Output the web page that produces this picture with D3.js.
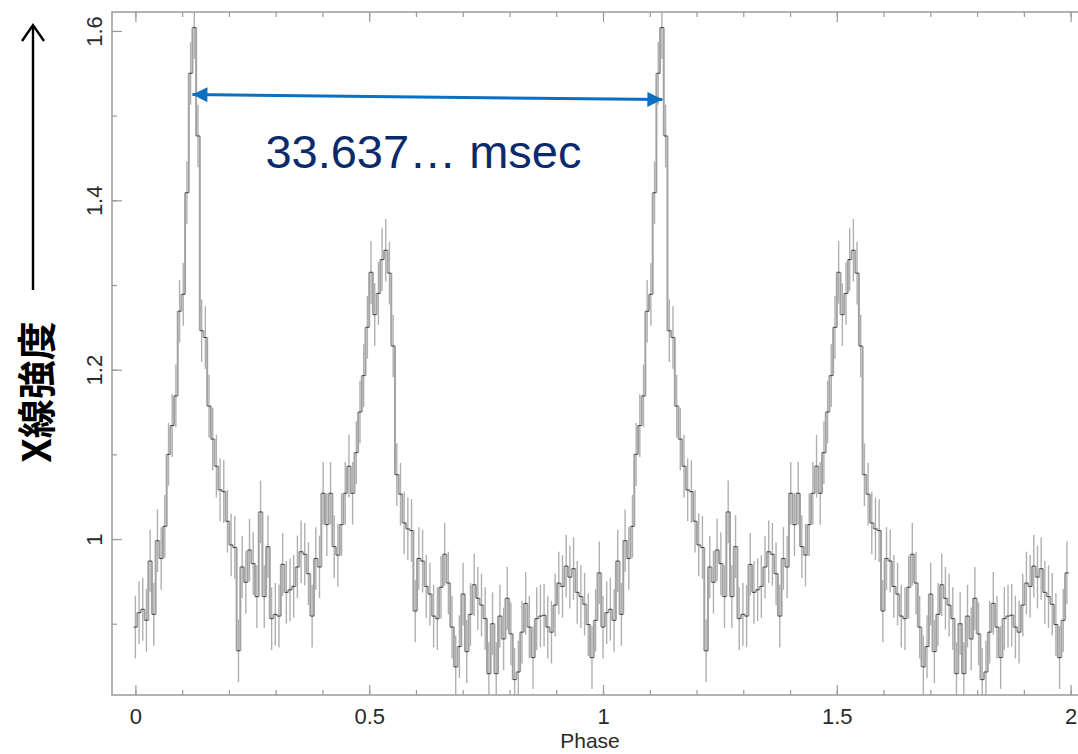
<!DOCTYPE html>
<html>
<head>
<meta charset="utf-8">
<script src="https://cdn.jsdelivr.net/npm/d3@7"></script>
<style>
  body { margin: 0; background: #fff; }
  svg { display: block; }
</style>
</head>
<body>
<div id="chart"></div>
<script>
// one pulse period, folded (bins centred at phase i/N), drawn twice
var profile = [
  0.896, 0.913, 0.917, 0.904, 0.974, 0.911, 0.998, 0.977, 1.015, 1.100,
  1.134, 1.169, 1.269, 1.289, 1.409, 1.550, 1.604, 1.476, 1.246, 1.238,
  1.157, 1.118, 1.086, 1.058, 1.056, 1.021, 0.993, 0.990, 0.868, 0.967,
  0.949, 0.987, 0.971, 0.932, 1.032, 0.932, 0.991, 0.906, 0.911, 0.909,
  0.970, 0.937, 0.940, 0.944, 0.967, 0.985, 0.982, 0.959, 0.909, 0.977,
  0.967, 1.054, 1.017, 1.054, 0.991, 0.981, 1.017, 1.054, 1.086, 1.054,
  1.102, 1.150, 1.193, 1.250, 1.315, 1.265, 1.290, 1.330, 1.341, 1.314,
  1.228, 1.076, 1.053, 1.019, 1.012, 1.010, 0.915, 0.977, 0.974, 0.944,
  0.935, 0.909, 0.906, 0.943, 0.982, 0.948, 0.896, 0.849, 0.873, 0.935,
  0.867, 0.911, 0.946, 0.930, 0.922, 0.906, 0.841, 0.900, 0.841, 0.909,
  0.882, 0.930, 0.888, 0.834, 0.843, 0.890, 0.924, 0.896, 0.860, 0.906,
  0.909, 0.910, 0.896, 0.890, 0.922, 0.948, 0.944, 0.968, 0.955, 0.965,
  0.937, 0.932, 0.923, 0.899, 0.860, 0.904, 0.960
];
var periods = [0, 1];
var errHalf = 0.037;

var xMajor = [0, 0.5, 1, 1.5, 2];
var yMajor = [1, 1.2, 1.4, 1.6];
var xLabel = "Phase";
var yLabel = "X線強度";
var periodText = "33.637… msec";
// arrow ends (phase, intensity)
var arrowFrom = [0.122, 1.525];
var arrowTo = [1.127, 1.519];
var textAt = [0.278, 1.438];

var W = 1078, H = 754;
var frame = { left: 112, top: 12, bottom: 695, right: 1094 };

var svg = d3.select("#chart").append("svg")
    .attr("width", W)
    .attr("height", H);

var x = d3.scaleLinear()
    .domain([-0.05, 2.05])
    .range([frame.left, frame.right]);

var y = d3.scaleLinear()
    .domain([0.8158, 1.6224])
    .range([frame.bottom, frame.top]);

var N = profile.length;
var bins = [];
periods.forEach(function(p) {
    profile.forEach(function(v, i) {
        bins.push({ c: p + i / N, v: v });
    });
});

svg.append("defs").append("clipPath").attr("id", "plotclip")
  .append("rect")
    .attr("x", frame.left).attr("y", frame.top)
    .attr("width", frame.right - frame.left)
    .attr("height", frame.bottom - frame.top);

var plot = svg.append("g").attr("clip-path", "url(#plotclip)");

// error bars
plot.selectAll("line.err")
    .data(bins)
    .enter().append("line")
    .attr("class", "err")
    .attr("x1", function(d) { return x(d.c); })
    .attr("x2", function(d) { return x(d.c); })
    .attr("y1", function(d) { return y(d.v - errHalf); })
    .attr("y2", function(d) { return y(d.v + errHalf); })
    .attr("stroke", "#b0b0b0")
    .attr("stroke-width", 1.4);

// step risers
plot.selectAll("line.riser")
    .data(bins.slice(1))
    .enter().append("line")
    .attr("class", "riser")
    .attr("x1", function(d) { return x(d.c - 0.5 / N); })
    .attr("x2", function(d) { return x(d.c - 0.5 / N); })
    .attr("y1", function(d, i) { return y(bins[i].v); })
    .attr("y2", function(d) { return y(d.v); })
    .attr("stroke", "#a2a2a2")
    .attr("stroke-width", 2);

// bin levels
plot.selectAll("line.lvl")
    .data(bins)
    .enter().append("line")
    .attr("class", "lvl")
    .attr("x1", function(d) { return x(d.c - 0.5 / N); })
    .attr("x2", function(d) { return x(d.c + 0.5 / N); })
    .attr("y1", function(d) { return y(d.v); })
    .attr("y2", function(d) { return y(d.v); })
    .attr("stroke", "#4a4a4a")
    .attr("stroke-width", 1.1);

// frame
svg.append("rect")
    .attr("x", frame.left).attr("y", frame.top)
    .attr("width", frame.right - frame.left)
    .attr("height", frame.bottom - frame.top)
    .attr("fill", "none")
    .attr("stroke", "#9a9a9a")
    .attr("stroke-width", 1.5);

var tickCol = "#9a9a9a";
function styleAxis(g) {
    g.select(".domain").remove();
    g.selectAll(".tick line").attr("stroke", tickCol).attr("stroke-width", 1.2);
}

var xMinor = x.ticks(20);
var yMinor = y.ticks(8);

// bottom
svg.append("g")
    .attr("transform", "translate(0," + frame.bottom + ")")
    .call(d3.axisBottom(x).tickValues(xMinor).tickSize(-5).tickFormat(""))
    .call(styleAxis);
var xb = svg.append("g")
    .attr("transform", "translate(0," + frame.bottom + ")")
    .call(d3.axisBottom(x).tickValues(xMajor).tickSize(-10).tickPadding(13)
        .tickFormat(d3.format("")))
    .call(styleAxis);
xb.selectAll("text")
    .attr("font-family", "'Liberation Sans', Arial, sans-serif")
    .attr("font-size", 22)
    .attr("fill", "#2a2a2a");

// top
svg.append("g")
    .attr("transform", "translate(0," + frame.top + ")")
    .call(d3.axisTop(x).tickValues(xMinor).tickSize(-5).tickFormat(""))
    .call(styleAxis);
svg.append("g")
    .attr("transform", "translate(0," + frame.top + ")")
    .call(d3.axisTop(x).tickValues(xMajor).tickSize(-10).tickFormat(""))
    .call(styleAxis);

// left
svg.append("g")
    .attr("transform", "translate(" + frame.left + ",0)")
    .call(d3.axisLeft(y).tickValues(yMinor).tickSize(-5).tickFormat(""))
    .call(styleAxis);
var yl = svg.append("g")
    .attr("transform", "translate(" + frame.left + ",0)")
    .call(d3.axisLeft(y).tickValues(yMajor).tickSize(-10).tickFormat(d3.format("")))
    .call(styleAxis);
yl.selectAll("text")
    .attr("x", 0)
    .attr("y", -10)
    .attr("dy", null)
    .attr("text-anchor", "middle")
    .attr("transform", "rotate(-90)")
    .attr("font-family", "'Liberation Sans', Arial, sans-serif")
    .attr("font-size", 22)
    .attr("fill", "#2a2a2a");

// x title
svg.append("text")
    .attr("x", 590)
    .attr("y", 748)
    .attr("text-anchor", "middle")
    .attr("font-family", "'Liberation Sans', Arial, sans-serif")
    .attr("font-size", 21)
    .attr("fill", "#2a2a2a")
    .text(xLabel);

// y title with arrow
svg.append("text")
    .attr("transform", "translate(51,392) rotate(-90)")
    .attr("text-anchor", "middle")
    .attr("font-family", "'Noto Sans CJK JP', sans-serif")
    .attr("font-weight", "bold")
    .attr("font-size", 39)
    .attr("fill", "#000")
    .text(yLabel);

svg.append("line")
    .attr("x1", 33).attr("x2", 33)
    .attr("y1", 290).attr("y2", 26)
    .attr("stroke", "#000").attr("stroke-width", 2.4);
svg.append("path")
    .attr("d", "M22,41 L33,25 L44,41")
    .attr("fill", "none")
    .attr("stroke", "#000").attr("stroke-width", 2.4);

// period annotation
var blue = "#0a70c2";
var defs = svg.select("defs");
defs.append("marker")
    .attr("id", "ah")
    .attr("viewBox", "0 0 10 10")
    .attr("refX", 10).attr("refY", 5)
    .attr("markerWidth", 6.5).attr("markerHeight", 5)
    .attr("markerUnits", "strokeWidth")
    .attr("orient", "auto-start-reverse")
  .append("path")
    .attr("d", "M0,0 L10,5 L0,10 z")
    .attr("fill", blue);

svg.append("line")
    .attr("x1", x(arrowFrom[0])).attr("y1", y(arrowFrom[1]))
    .attr("x2", x(arrowTo[0])).attr("y2", y(arrowTo[1]))
    .attr("stroke", blue)
    .attr("stroke-width", 3)
    .attr("marker-start", "url(#ah)")
    .attr("marker-end", "url(#ah)");

svg.append("text")
    .attr("x", x(textAt[0]))
    .attr("y", y(textAt[1]))
    .attr("font-family", "'Liberation Sans', Arial, sans-serif")
    .attr("font-size", 47)
    .attr("fill", "#0b2a6b")
    .text(periodText);
</script>
</body>
</html>
